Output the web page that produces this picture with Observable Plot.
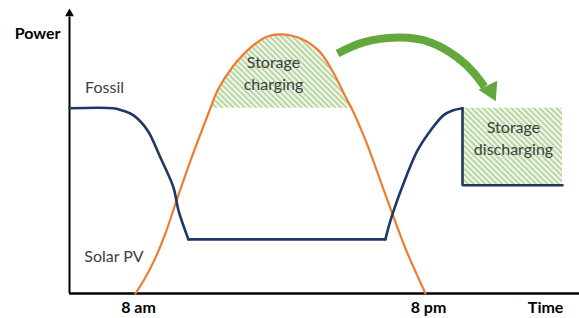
<!DOCTYPE html>
<html>
<head>
<meta charset="utf-8">
<script src="https://cdn.jsdelivr.net/npm/d3@7"></script>
<script src="https://cdn.jsdelivr.net/npm/@observablehq/plot@0.6"></script>
<style>
  html, body { margin: 0; padding: 0; background: #ffffff; }
</style>
</head>
<body>
<div id="chart"></div>
<script>
// ---- Data (x = hour of day, y = power in arbitrary units 0–100) ----
const solarHour  = [8.00, 8.41, 8.83, 9.24, 9.66, 10.28, 11.10, 11.39, 12.06, 12.76, 13.46, 14.00, 14.83, 15.57, 16.07, 16.77, 16.94, 17.52, 18.43, 19.17, 20.00];
const solarPower = [0,    5.6,  12.6, 21.1, 31.6, 46.7,  65,    71.2,  80.0,  86.3,  90.2,  90.9,  89.5,  85.3,  79.3,  67.7,  65,    53.7,  32.6,  15.8,  0];

const fossilHour    = [5.27, 7.09, 7.46, 7.92, 8.50, 9.03, 9.57, 9.78, 10.19, 10.19, 18.34, 18.34, 18.55, 19.09, 19.67, 20.21, 20.74, 21.12, 21.53];
const fossilPower   = [65,   65,   64.2, 62.5, 57.2, 47.7, 37.2, 29.1, 19,    19,    19,    19,    25.6,  38.6,  50.2,  57.2,  62.5,  64.2,  65];
const fossilSegment = ["ramp down","ramp down","ramp down","ramp down","ramp down","ramp down","ramp down","ramp down","ramp down",
                       "midday","midday",
                       "ramp up","ramp up","ramp up","ramp up","ramp up","ramp up","ramp up","ramp up"];

const fossilHigh = 65;             // evening fossil level
const dischargeHour  = [21.53, 21.53, 25.67];   // storage discharging edge
const dischargePower = [65,    38,    38];

const arrowHour  = [16.36, 17.43, 18.84, 20.21, 21.32, 21.99, 22.44];
const arrowPower = [84.2,  88.1,  89.8,  88.1,  82.8,  77.5,  72.6];
const arrowHeadHour = 22.69, arrowHeadPower = 71.2;

const tickHours  = [8, 20];
const tickLabels = ["8 am", "8 pm"];

const labelText  = ["Fossil", "Solar PV", "Storage\ncharging", "Storage\ndischarging"];
const labelHour  = [6.72, 7.11, 13.71, 23.64];
const labelPower = [73.0, 13.6, 77.8, 55.0];

const xDomain = [5.269, 26.372];
const yDomain = [0, 100];

// ---- Build tables ----
const solar = solarHour.map((h, i) => ({h, p: solarPower[i]}));
const charging = solar.filter(d => d.p >= fossilHigh);
const fossil = fossilHour.map((h, i) => ({h, p: fossilPower[i], seg: fossilSegment[i]}));
const discharge = dischargeHour.map((h, i) => ({h, p: dischargePower[i]}));
const arrow = arrowHour.map((h, i) => ({h, p: arrowPower[i]}));
const ticks = tickHours.map((h, i) => ({h, t: tickLabels[i]}));
const labels = labelText.map((t, i) => ({t, h: labelHour[i], p: labelPower[i]}));

const navy = "#1f3864";
const orange = "#ed7d31";
const green = "#63a83c";
const textGray = "#404040";

const chart = Plot.plot({
  width: 579,
  height: 318,
  marginLeft: 69,
  marginRight: 0,
  marginTop: 8,
  marginBottom: 25,
  x: {domain: xDomain, axis: null},
  y: {domain: yDomain, axis: null},
  style: {fontFamily: "Lato, 'Open Sans', sans-serif", background: "#ffffff", overflow: "visible"},
  marks: [
    // hatched storage areas
    Plot.areaY(charging, {x: "h", y1: fossilHigh, y2: "p", curve: "catmull-rom", fill: "url(#hatch)"}),
    Plot.rect([0], {x1: dischargeHour[0], x2: dischargeHour[2], y1: dischargePower[1], y2: fossilHigh, fill: "url(#hatch)"}),
    // axes
    Plot.ruleY([0], {stroke: "#000", strokeWidth: 2.5}),
    Plot.ruleX([xDomain[0]], {y1: 0, y2: 97, stroke: "#000", strokeWidth: 2}),
    Plot.dot([0], {x: xDomain[0], y: 98.2, symbol: "triangle", r: 3.3, fill: "#000", stroke: null}),
    // solar PV
    Plot.line(solar, {x: "h", y: "p", stroke: orange, strokeWidth: 2.2, curve: "catmull-rom"}),
    // fossil
    Plot.line(fossil, {x: "h", y: "p", z: "seg", stroke: navy, strokeWidth: 2.6, curve: "catmull-rom", strokeLinecap: "round", strokeLinejoin: "round"}),
    Plot.line(discharge, {x: "h", y: "p", stroke: navy, strokeWidth: 2.6, curve: "linear", strokeLinejoin: "miter"}),
    // green arrow
    Plot.line(arrow, {x: "h", y: "p", stroke: green, strokeWidth: 8, curve: "natural", strokeLinecap: "butt"}),
    Plot.dot([0], {x: arrowHeadHour, y: arrowHeadPower, symbol: "triangle", r: 7.7, rotate: 154, fill: green, stroke: null}),
    // text labels
    Plot.text(labels, {x: "h", y: "p", text: "t", textAnchor: "middle", fill: textGray, fontSize: 16, lineHeight: 1.4}),
    // tick labels
    Plot.text(ticks, {x: "h", y: -4.9, text: "t", fontWeight: "bold", fontSize: 16, fill: "#000", dx: 3}),
    Plot.text(["Time"], {x: 24.97, y: -4.9, text: d => d, fontWeight: "bold", fontSize: 16, fill: "#000"}),
    Plot.text(["Power"], {x: xDomain[0], y: 91.0, text: d => d, fontWeight: "bold", fontSize: 16, fill: "#000", textAnchor: "end", dx: -9})
  ]
});

document.getElementById("chart").appendChild(chart);

const svg = d3.select(chart);
const defs = svg.insert("defs", ":first-child");
const pat = defs.append("pattern")
  .attr("id", "hatch")
  .attr("patternUnits", "userSpaceOnUse")
  .attr("width", 4).attr("height", 4)
  .attr("patternTransform", "rotate(-45)");
pat.append("rect").attr("width", 4).attr("height", 4).attr("fill", "#f1f7ec");
pat.append("line").attr("x1", 1).attr("y1", 0).attr("x2", 1).attr("y2", 4)
  .attr("stroke", "#b3d39c").attr("stroke-width", 1.8);
</script>
</body>
</html>
